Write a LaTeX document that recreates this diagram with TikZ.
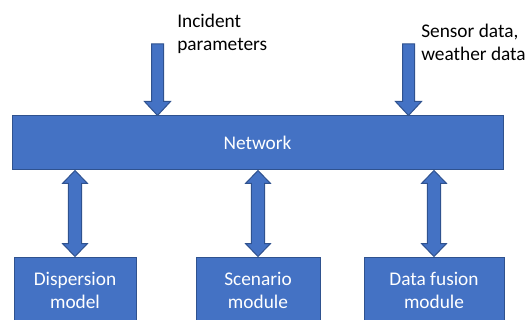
\documentclass[tikz,border=0pt]{standalone}
\usepackage{fontspec}
\setmainfont{Carlito}
\usetikzlibrary{calc}
\definecolor{boxblue}{HTML}{4472C4}
\definecolor{edgeblue}{HTML}{2F528F}

\begin{document}
\begin{tikzpicture}[x=0.75pt, y=-0.75pt, font=\fontsize{14.5}{17}\selectfont]
\tikzstyle{every node}=[inner sep=0pt]
\tikzstyle{block}=[draw=edgeblue, fill=boxblue, line width=0.75pt, text=white, align=center]
\tikzstyle{note}=[align=left, anchor=north west]
\tikzstyle{inarrow}=[draw=edgeblue, fill=boxblue, line width=0.75pt,
  to path={let \p1=(\tikztostart), \p2=(\tikztotarget) in
    ({\x1-4.5pt},{\y1}) -- ({\x1+4.5pt},{\y1}) -- ({\x1+4.5pt},{\y2+10.5pt})
    -- ({\x1+9.75pt},{\y2+10.5pt}) -- ({\x1},{\y2}) -- ({\x1-9.75pt},{\y2+10.5pt})
    -- ({\x1-4.5pt},{\y2+10.5pt}) -- cycle}]
\tikzstyle{linkarrow}=[draw=edgeblue, fill=boxblue, line width=0.75pt,
  to path={let \p1=(\tikztostart), \p2=(\tikztotarget) in
    ({\x1},{\y1}) -- ({\x1+9.4pt},{\y1-9.75pt}) -- ({\x1+5pt},{\y1-9.75pt})
    -- ({\x1+5pt},{\y2+9.75pt}) -- ({\x1+9.4pt},{\y2+9.75pt}) -- ({\x1},{\y2})
    -- ({\x1-9.4pt},{\y2+9.75pt}) -- ({\x1-5pt},{\y2+9.75pt})
    -- ({\x1-5pt},{\y1-9.75pt}) -- ({\x1-9.4pt},{\y1-9.75pt}) -- cycle}]

\useasboundingbox (0,0) rectangle (531,320);

\node[block, minimum width=368.25pt, minimum height=40.5pt] (net) at (257.5,143) {Network};
\node[block, minimum width=91.5pt, minimum height=50.25pt] (disp) at (75,290.5) {Dispersion\\model};
\node[block, minimum width=93pt, minimum height=50.25pt] (scen) at (258,290.5) {Scenario\\module};
\node[block, minimum width=105pt, minimum height=50.25pt] (fuse) at (434,290.5) {Data fusion\\module};

\node[note] (inc) at (177,14) {Incident\\parameters};
\node[note] (sens) at (421,24) {Sensor data,\\weather data};
\coordinate (inA) at (157.5,44);
\coordinate (inB) at (408.5,44);

\draw[inarrow] (inA) to (inA |- net.north);
\draw[inarrow] (inB) to (inB |- net.north);
\draw[linkarrow] (disp.north |- net.south) to (disp.north);
\draw[linkarrow] (scen.north |- net.south) to (scen.north);
\draw[linkarrow] (fuse.north |- net.south) to (fuse.north);
\end{tikzpicture}
\end{document}
